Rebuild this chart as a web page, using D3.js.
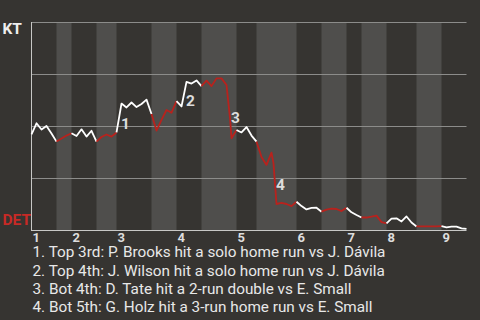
<!DOCTYPE html>
<html><head><meta charset="utf-8">
<script src="https://cdn.jsdelivr.net/npm/d3@7"></script>
<style>
html,body{margin:0;padding:0;background:#363431;}
svg{display:block;}
</style></head>
<body>
<svg id="c" width="480" height="320"></svg>
<script>
// Win probability for KT (percent) per play position
const playPos = [0,1,2,3,4,5,6,7,8,9,10,11,12,13,14,15,16,17,18,19,20,21,22,23,24,25,26,27,28,29,30,31,32,33,34,35,36,37,38,39,39.7,40,41,42,43,44,45,46,47,48,48.4,49,50,51,52,53,54,55,56,57,58,59,60,61,62,63,64,65,66,67,68,69,70,71,72,73,74,75,76,77,78,79,80,81,82,83,84,85,86,87];
const ktWinPct = [46,51.3,48.3,50,46.4,42.5,44,45.4,46.5,45.2,48.4,44.9,47.7,42.5,44.7,45.9,44.9,46.9,60.8,58.9,61.3,59.1,60.6,62.7,55.8,47.8,52.9,57.7,56.4,62,59.4,71.2,70.4,71.9,69.2,71.8,69.2,72.9,72.9,69.7,53.8,44.1,48.1,46.9,49.5,45.4,42.5,35.1,31.3,37.2,32,12.5,13,12.5,11.5,13.6,11.5,9.9,10.6,10.7,8.8,9.8,10.3,10.1,9.1,10.7,8.5,7.2,6,6,6.4,6.9,3.8,3.2,5.5,5.6,4.1,6.5,3.6,1.7,1.7,1.7,1.7,1.7,1.9,1.3,1.6,1.6,0.8,0.5];
// Play positions where each half-inning starts (top 1 ... top 9), plus game end
const halfStarts = [0,5,8,13,17,24,29,34,41,45,53,58,63,66,71,77,82,87];
const inningLabels = ["1","2","3","4","5","6","7","8","9"];
const yTicks = [0,25,50,75,100];
const teams = ["KT","DET"];
// Key plays: position of play after the swing, marker label
const keyPlayPos = [18,31,40,49];
const keyPlayPrev = [17,30,39,48];
const keyPlayText = [
  "1. Top 3rd: P. Brooks hit a solo home run vs J. Dávila",
  "2. Top 4th: J. Wilson hit a solo home run vs J. Dávila",
  "3. Bot 4th: D. Tate hit a 2-run double vs E. Small",
  "4. Bot 5th: G. Holz hit a 3-run home run vs E. Small"
];

const svg = d3.select("#c");
const x = d3.scaleLinear().domain([0,87]).range([31.5,466.5]);
const y = d3.scaleLinear().domain([0,100]).range([230,22]);
const data = playPos.map((p,i)=>({p, v: ktWinPct[i]}));
const valAt = p => data.find(d=>d.p===p).v;

svg.append("rect").attr("width",480).attr("height",320).attr("fill","#363431");

// bottom half bands
const bands = [];
for (let i=1;i<halfStarts.length-1;i+=2) bands.push([halfStarts[i], halfStarts[i+1]]);
svg.append("g").selectAll("rect").data(bands).join("rect")
  .attr("x", d=>x(d[0])).attr("width", d=>x(d[1])-x(d[0]))
  .attr("y", y(100)).attr("height", y(0)-y(100))
  .attr("fill","#4f4e4c");

// grid lines
svg.append("g").selectAll("line").data(yTicks.filter(t=>t>0)).join("line")
  .attr("x1", x(0)).attr("x2", x(87))
  .attr("y1", d=>Math.round(y(d))+0.5).attr("y2", d=>Math.round(y(d))+0.5)
  .attr("stroke","#8c8c8a").attr("stroke-width",1);
// axes
svg.append("line").attr("x1", 31.5).attr("x2",31.5).attr("y1", y(100)).attr("y2", y(0)+0.5)
  .attr("stroke","#c8c8c6").attr("stroke-width",1);
svg.append("line").attr("x1", 31).attr("x2", x(87)).attr("y1", y(0)+0.5).attr("y2", y(0)+0.5)
  .attr("stroke","#c8c8c6").attr("stroke-width",1);

// line, colored by half inning
const line = d3.line().x(d=>x(d.p)).y(d=>y(d.v));
const segs = [];
for (let i=0;i<halfStarts.length-1;i++){
  const a=halfStarts[i], b=halfStarts[i+1];
  segs.push({top: i%2===0, pts: data.filter(d=>d.p>=a && d.p<=b)});
}
svg.append("g").selectAll("path").data(segs).join("path")
  .attr("d", d=>line(d.pts)).attr("fill","none")
  .attr("stroke", d=>d.top ? "#ffffff" : "#b8221d")
  .attr("stroke-width",1.8).attr("stroke-linejoin","round");

// key play markers
svg.append("g").selectAll("text").data(keyPlayPos).join("text")
  .attr("x", (d)=>x(d)-0.5)
  .attr("y", (d,i)=>(y(valAt(d))+y(valAt(keyPlayPrev[i])))/2+11.5)
  .attr("font-family","Roboto").attr("font-weight","bold").attr("font-size",15.5)
  .attr("fill","#dddddd").text((d,i)=>i+1);

// team labels
svg.append("text").attr("x",2.5).attr("y",33.5).text(teams[0])
  .attr("font-family","Roboto").attr("font-weight","bold").attr("font-size",15.5).attr("fill","#eeeeee");
svg.append("text").attr("x",2.5).attr("y",225.3).text(teams[1])
  .attr("font-family","Roboto").attr("font-weight","bold").attr("font-size",15.5).attr("fill","#c62a26");

// inning labels
const topStarts = halfStarts.filter((d,i)=>i%2===0 && i<halfStarts.length-1);
svg.append("g").selectAll("text").data(topStarts).join("text")
  .attr("x", d=>x(d)+1).attr("y", 241.8)
  .attr("font-family","Roboto").attr("font-weight","bold").attr("font-size",13)
  .attr("fill","#dddddd").text((d,i)=>inningLabels[i]);

// notes
svg.append("g").selectAll("text").data(keyPlayText).join("text")
  .attr("x", 32.5).attr("y", (d,i)=>257.3+i*18.2)
  .attr("font-family","Roboto").attr("font-size",15.3)
  .attr("fill","#e8e8e8").text(d=>d);
</script>
</body></html>
